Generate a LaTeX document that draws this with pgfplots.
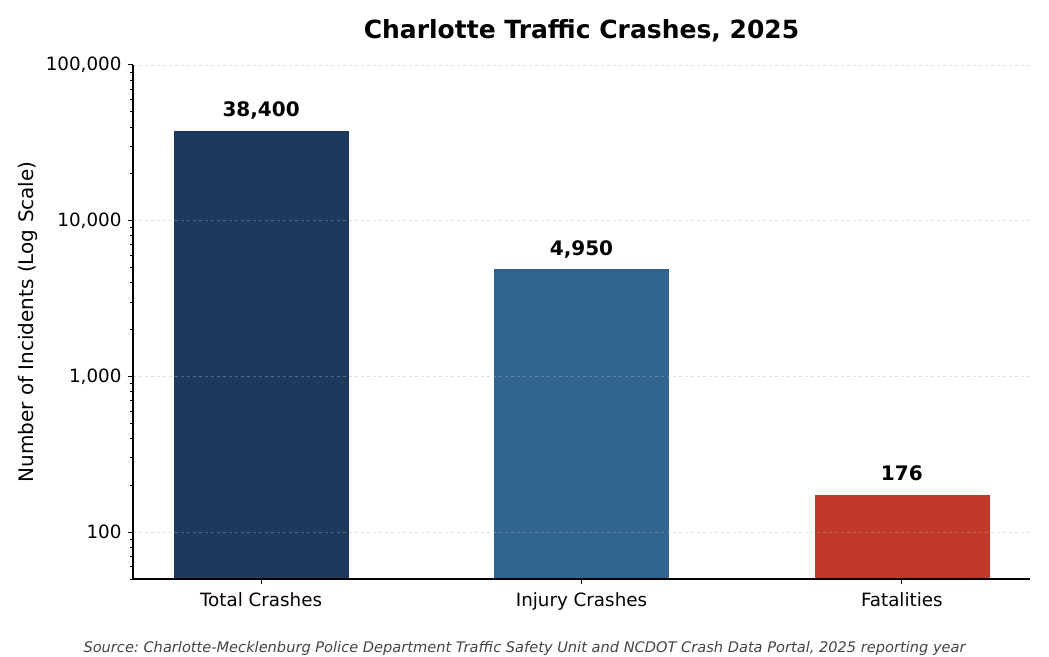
\documentclass[border=0pt]{standalone}
\usepackage{pgfplots}
\pgfplotsset{compat=1.18}
\usepackage{fontspec}
\setmainfont{DejaVu Sans}
\usetikzlibrary{calc}
\frenchspacing

\definecolor{navy}{HTML}{1D3A5C}
\definecolor{steel}{HTML}{31658F}
\definecolor{brick}{HTML}{C0392B}
\definecolor{srcgray}{HTML}{444444}

\begin{document}
\begin{tikzpicture}
\begin{axis}[
    scale only axis,
    width=897pt, height=514pt,
    ymode=log, log origin=infty,
    ymin=50, ymax=100000,
    xmin=-0.4, xmax=2.4,
    axis x line*=bottom,
    axis y line*=left,
    axis line style={line width=1.1pt},
    tick align=outside,
    major tick length=5pt,
    minor tick length=3pt,
    tick style={black, line width=1pt},
    minor tick style={black, line width=0.8pt},
    xtick={0,1,2},
    xticklabels={Total Crashes, Injury Crashes, Fatalities},
    ytick={100,1000,10000,100000},
    yticklabels={100,{1,000},{10,000},{100,000}},
    minor ytick={50,60,70,80,90,200,300,400,500,600,700,800,900,
                 2000,3000,4000,5000,6000,7000,8000,9000,
                 20000,30000,40000,50000,60000,70000,80000,90000},
    ymajorgrids,
    grid style={dashed, color=gray!60, opacity=0.4, line width=0.8pt},
    /pgf/number format/assume math mode=true,
    tick label style={font=\fontsize{18.3}{21}\selectfont},
    xticklabel style={yshift=-5pt},
    yticklabel style={xshift=-3pt},
    clip=false,
    axis on top,
]
% bars
\addplot[ybar, bar width=0.55, bar shift=0pt, fill=navy, draw=white, line width=0.4pt]
    coordinates {(0,38400)};
\addplot[ybar, bar width=0.55, bar shift=0pt, fill=steel, draw=white, line width=0.4pt]
    coordinates {(1,4950)};
\addplot[ybar, bar width=0.55, bar shift=0pt, fill=brick, draw=white, line width=0.4pt]
    coordinates {(2,176)};

% value labels
\node[anchor=base, inner sep=0pt, yshift=13pt, font=\bfseries\fontsize{20}{24}\selectfont]
    at (axis cs:0,38400) {38,400};
\node[anchor=base, inner sep=0pt, yshift=13pt, font=\bfseries\fontsize{20}{24}\selectfont]
    at (axis cs:1,4950) {4,950};
\node[anchor=base, inner sep=0pt, yshift=13pt, font=\bfseries\fontsize{20}{24}\selectfont]
    at (axis cs:2,176) {176};

% title, y label, source
\node[anchor=base, inner sep=0pt, font=\bfseries\fontsize{25}{30}\selectfont]
    at ([yshift=26pt]rel axis cs:0.5,1) {Charlotte Traffic Crashes, 2025};
\node[rotate=90, inner sep=0pt, font=\fontsize{20}{24}\selectfont]
    at ([xshift=-105pt]rel axis cs:0,0.5) {Number of Incidents (Log Scale)};
\node[anchor=base, inner sep=0pt, text=srcgray, font=\itshape\fontsize{14.6}{17}\selectfont]
    at ([yshift=-74pt]rel axis cs:0.4365,0)
    {Source: Charlotte-Mecklenburg Police Department Traffic Safety Unit and NCDOT Crash Data Portal, 2025 reporting year};
\end{axis}
\pgfresetboundingbox
\path[use as bounding box] ($(current axis.south west)+(-133pt,-77pt)$)
    rectangle ($(current axis.north east)+(19pt,65pt)$);
\end{tikzpicture}
\end{document}
